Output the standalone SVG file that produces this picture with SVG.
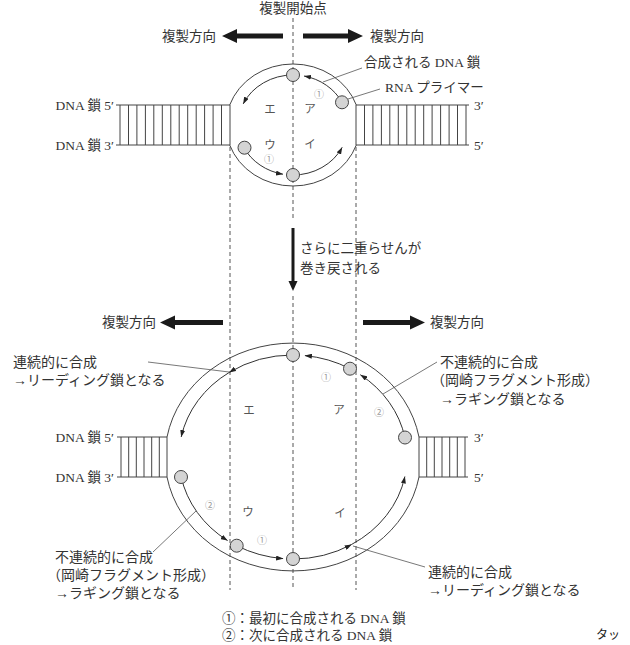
<svg xmlns="http://www.w3.org/2000/svg" width="630" height="645" viewBox="0 0 630 645">
<defs>
<style>
.t{font-family:"Liberation Serif","Noto Sans CJK JP",serif;font-size:13.5px;fill:#333}
.n{font-size:14px}
.k{font-size:11.5px;fill:#555;text-anchor:middle}
.c{font-size:10px;fill:#999;text-anchor:middle;font-family:"Noto Sans CJK JP",sans-serif}
.e{text-anchor:end}
.m{text-anchor:middle}
.strand{fill:none;stroke:#333;stroke-width:1;marker-end:url(#ah)}
.outer{fill:none;stroke:#444;stroke-width:1}
.dash{fill:none;stroke:#555;stroke-width:1;stroke-dasharray:4 3}
.primer{fill:#d4d4d4;stroke:#444;stroke-width:1}
.lead{fill:none;stroke:#555;stroke-width:0.8}
.big{fill:#1a1a1a}
</style>
<marker id="ah" viewBox="0 0 7 5" refX="7" refY="2.5" markerWidth="7" markerHeight="5" markerUnits="userSpaceOnUse" orient="auto">
<path d="M0,0 L7,2.5 L0,5 z" fill="#222"/>
</marker>
</defs>
<rect width="630" height="645" fill="#fff"/>

<g id="guides">
<path class="dash" d="M293,18 V218 M293,296 V590 M230,147 V590 M356,147 V590"/>
</g>

<g id="top-bubble">
<path class="outer" d="M229.7,105 A67,61 0 0 1 356.3,105 M356.3,145 A67,61 0 0 1 229.7,145"/>
<path class="outer" d="M116,105 H230 M116,145 H230 M120,105 V145 M128.5,105 V145 M136.9,105 V145 M145.4,105 V145 M153.8,105 V145 M162.3,105 V145 M170.8,105 V145 M179.2,105 V145 M187.7,105 V145 M196.2,105 V145 M204.6,105 V145 M213.1,105 V145 M221.5,105 V145 M230,105 V145"/>
<path class="outer" d="M356,105 H469 M356,145 H469 M356,105 V145 M364.5,105 V145 M372.9,105 V145 M381.4,105 V145 M389.8,105 V145 M398.3,105 V145 M406.8,105 V145 M415.2,105 V145 M423.7,105 V145 M432.1,105 V145 M440.6,105 V145 M449.1,105 V145 M457.5,105 V145 M466,105 V145"/>
</g>

<g id="top-strands">
<path class="strand" d="M293,75 A55,50 0 0 0 243.2,103.9"/>
<path class="strand" d="M244,147.7 A55,50 0 0 0 283,174.2"/>
<path class="strand" d="M293,175 A55,50 0 0 0 342.2,147.3"/>
<path class="strand" d="M342,102.3 A55,50 0 0 0 304,76"/>
</g>

<g id="top-primers">
<circle class="primer" cx="293" cy="75" r="6.5"/>
<circle class="primer" cx="342" cy="102.3" r="6.5"/>
<circle class="primer" cx="244.5" cy="147.7" r="6.5"/>
<circle class="primer" cx="293" cy="175" r="6.5"/>
</g>

<g id="bottom-bubble">
<path class="outer" d="M167,437 A128,114 0 0 1 419,437 M419,477 A128,114 0 0 1 167,477"/>
<path class="outer" d="M117,437 H167 M117,477 H167 M121,437 V477 M128.7,437 V477 M136.3,437 V477 M144,437 V477 M151.7,437 V477 M159.3,437 V477 M167,437 V477"/>
<path class="outer" d="M419,437 H468 M419,477 H468 M419,437 V477 M426.7,437 V477 M434.3,437 V477 M442,437 V477 M449.7,437 V477 M457.3,437 V477 M465,437 V477"/>
</g>

<g id="bottom-strands">
<path class="strand" d="M293,355 A114,102 0 0 0 229.1,372.5"/>
<path class="strand" d="M229.1,372.5 A114,102 0 0 0 181.2,437"/>
<path class="strand" d="M181.1,476.5 A114,102 0 0 0 227.6,540.6"/>
<path class="strand" d="M236.7,545.7 A114,102 0 0 0 283.1,558.6"/>
<path class="strand" d="M293,559 A114,102 0 0 0 351.7,544.4"/>
<path class="strand" d="M351.7,544.4 A114,102 0 0 0 404.9,476.5"/>
<path class="strand" d="M404.9,437.5 A114,102 0 0 0 360.3,374.7"/>
<path class="strand" d="M350,368.7 A114,102 0 0 0 304.9,355.6"/>
</g>

<g id="bottom-primers">
<circle class="primer" cx="293" cy="355" r="6.5"/>
<circle class="primer" cx="350" cy="368.7" r="6.5"/>
<circle class="primer" cx="405" cy="437.5" r="6.5"/>
<circle class="primer" cx="181" cy="477" r="6.5"/>
<circle class="primer" cx="236.7" cy="545.7" r="6.5"/>
<circle class="primer" cx="293" cy="559" r="6.5"/>
</g>

<g id="connectors">
<path class="lead" d="M362,68 L323,82"/>
<path class="lead" d="M380,89 L348,99"/>
<path class="lead" d="M148,362 L229,372"/>
<path class="lead" d="M437,362 L383,394"/>
<path class="lead" d="M196,511 L153,552"/>
<path class="lead" d="M425,567 L353,546"/>
</g>

<g id="direction-arrows">
<polygon class="big" points="283,33.5 237,33.5 237,29 222,36 237,43 237,38.5 283,38.5"/>
<polygon class="big" points="303,33.5 348,33.5 348,29 363,36 348,43 348,38.5 303,38.5"/>
<polygon class="big" points="223,320 175,320 175,315.5 160,322.5 175,329.5 175,325 223,325"/>
<polygon class="big" points="363,320 410,320 410,315.5 425,322.5 410,329.5 410,325 363,325"/>
<path d="M293,228 V282" stroke="#1a1a1a" stroke-width="3" fill="none"/>
<polygon class="big" points="288.5,281 297.5,281 293,291"/>
</g>

<g id="labels">
<text class="t m" x="293" y="13">複製開始点</text>
<text class="t" x="162" y="41">複製方向</text>
<text class="t" x="370" y="41">複製方向</text>
<text class="t" x="364" y="67">合成される DNA 鎖</text>
<text class="t" x="385" y="92">RNA プライマー</text>
<text class="t e" x="114" y="110">DNA 鎖 5′</text>
<text class="t e" x="114" y="150">DNA 鎖 3′</text>
<text class="t" x="474" y="110">3′</text>
<text class="t" x="474" y="150">5′</text>
<text class="t k" x="270" y="113">エ</text>
<text class="t k" x="310" y="113">ア</text>
<text class="t k" x="270" y="149">ウ</text>
<text class="t k" x="310" y="148">イ</text>
<text class="c" x="319" y="97.5">①</text>
<text class="c" x="269" y="162.5">①</text>
<text class="t" x="300" y="253">さらに二重らせんが</text>
<text class="t" x="300" y="273">巻き戻される</text>
<text class="t" x="102" y="327">複製方向</text>
<text class="t" x="430" y="327">複製方向</text>
<text class="t n" x="13" y="367">連続的に合成</text>
<text class="t n" x="13" y="385">→リーディング鎖となる</text>
<text class="t n" x="440" y="367">不連続的に合成</text>
<text class="t n" x="431" y="385">（岡崎フラグメント形成）</text>
<text class="t n" x="440" y="404">→ラギング鎖となる</text>
<text class="t e" x="114" y="442">DNA 鎖 5′</text>
<text class="t e" x="114" y="482">DNA 鎖 3′</text>
<text class="t" x="474" y="442">3′</text>
<text class="t" x="474" y="482">5′</text>
<text class="t k" x="249" y="414">エ</text>
<text class="t k" x="339" y="414">ア</text>
<text class="t k" x="248" y="516">ウ</text>
<text class="t k" x="340" y="517">イ</text>
<text class="c" x="326" y="380.5">①</text>
<text class="c" x="379" y="415.5">②</text>
<text class="c" x="210" y="508.5">②</text>
<text class="c" x="262" y="543.5">①</text>
<text class="t n" x="55" y="562">不連続的に合成</text>
<text class="t n" x="47" y="580">（岡崎フラグメント形成）</text>
<text class="t n" x="55" y="598">→ラギング鎖となる</text>
<text class="t n" x="428" y="577">連続的に合成</text>
<text class="t n" x="428" y="595">→リーディング鎖となる</text>
<text class="t" x="222" y="623">①：最初に合成される DNA 鎖</text>
<text class="t" x="222" y="640">②：次に合成される DNA 鎖</text>
<text x="596" y="639" font-family="Noto Sans CJK JP, sans-serif" font-size="12" fill="#222">タッ</text>
</g>
</svg>
